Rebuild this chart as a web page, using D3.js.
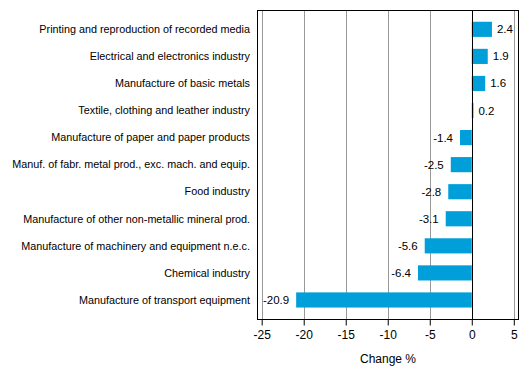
<!DOCTYPE html>
<html><head><meta charset="utf-8">
<script src="https://cdn.jsdelivr.net/npm/d3@7"></script>
<style>body{margin:0;background:#fff}svg{display:block}text{font-family:"Liberation Sans",Arial,sans-serif;font-size:11px;fill:#000}</style>
</head><body><svg id="c" width="529" height="378"></svg>
<script>
const categories = [
  "Printing and reproduction of recorded media",
  "Electrical and electronics industry",
  "Manufacture of basic metals",
  "Textile, clothing and leather industry",
  "Manufacture of paper and paper products",
  "Manuf. of fabr. metal prod., exc. mach. and equip.",
  "Food industry",
  "Manufacture of other non-metallic mineral prod.",
  "Manufacture of machinery and equipment n.e.c.",
  "Chemical industry",
  "Manufacture of transport equipment"
];
const values = [2.4, 1.9, 1.6, 0.2, -1.4, -2.5, -2.8, -3.1, -5.6, -6.4, -20.9];
const valueLabels = ["2.4","1.9","1.6","0.2","-1.4","-2.5","-2.8","-3.1","-5.6","-6.4","-20.9"];
const tickValues = [-25, -20, -15, -10, -5, 0, 5];
const axisTitle = "Change %";

const svg = d3.select("#c");
const L = 257.5, R = 518.5, T = 10.5, B = 319.5;
const x = d3.scaleLinear().domain([-25.5, 5.56]).range([L, R]);
const y = d3.scaleBand().domain(categories).range([15.8, 313.5]).paddingInner(0.44).paddingOuter(0.22);

// gridlines
svg.append("g").selectAll("line").data(tickValues.filter(t => t !== 0)).join("line")
  .attr("x1", d => Math.round(x(d)) + 0.5).attr("x2", d => Math.round(x(d)) + 0.5)
  .attr("y1", T).attr("y2", B).attr("stroke", "#999").attr("stroke-width", 1);

// bars
svg.append("g").selectAll("rect").data(values).join("rect")
  .attr("x", d => Math.min(x(0), x(d)))
  .attr("width", d => Math.abs(x(d) - x(0)))
  .attr("y", (d, i) => y(categories[i]))
  .attr("height", y.bandwidth())
  .attr("fill", "#009fda");

// zero line
svg.append("line").attr("x1", Math.round(x(0)) + 0.5).attr("x2", Math.round(x(0)) + 0.5)
  .attr("y1", T).attr("y2", B).attr("stroke", "#000");

// frame
svg.append("rect").attr("x", L).attr("y", T).attr("width", R - L).attr("height", B - T)
  .attr("fill", "none").attr("stroke", "#000");

// value labels
svg.append("g").selectAll("text").data(values).join("text")
  .attr("x", d => d >= 0 ? x(d) + 5 : x(d) - 7)
  .attr("y", (d, i) => y(categories[i]) + y.bandwidth() / 2)
  .attr("dy", "0.35em")
  .attr("text-anchor", d => d >= 0 ? "start" : "end")
  .style("font-size", "11.5px")
  .text((d, i) => valueLabels[i]);

// category labels
svg.append("g").selectAll("text").data(categories).join("text")
  .attr("x", 250).attr("y", d => y(d) + y.bandwidth() / 2).attr("dy", "0.35em")
  .attr("text-anchor", "end").style("font-size", "10.8px").text(d => d);

// x axis
const ax = svg.append("g").attr("transform", `translate(0,${B})`)
  .call(d3.axisBottom(x).tickValues(tickValues).tickSize(6).tickSizeOuter(0).tickFormat(d3.format("d")));
ax.select(".domain").remove();
ax.selectAll("line").attr("stroke", "#000");
ax.selectAll("text").attr("y", 11).attr("dy", "0.71em").style("font-size", "12px")
  .text(d => d < 0 ? "-" + Math.abs(d) : d);

svg.append("text").attr("x", (L + R) / 2).attr("y", 363).attr("text-anchor", "middle")
  .style("font-size", "12px").text(axisTitle);
</script></body></html>
